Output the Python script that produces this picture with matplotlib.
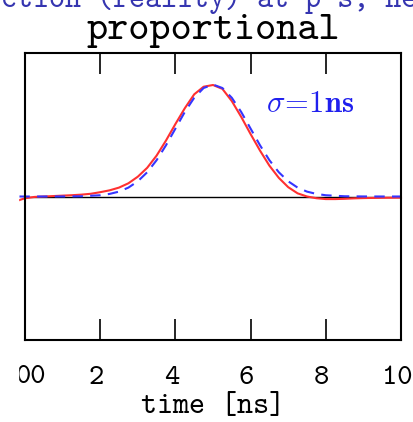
import numpy as np
import matplotlib
matplotlib.use('Agg')
import matplotlib.pyplot as plt
from matplotlib.patches import Rectangle
from matplotlib.transforms import ScaledTranslation

plt.rcParams['font.family'] = ['cmtt10', 'DejaVu Serif']
plt.rcParams['mathtext.fontset'] = 'cm'
plt.rcParams['axes.formatter.use_mathtext'] = True

# data
t_red = [-0.15, 0.0, 0.25, 0.5, 0.75, 1.0, 1.25, 1.5, 1.75, 2.0, 2.25, 2.5, 2.75,
         3.0, 3.25, 3.5, 3.75, 4.0, 4.25, 4.5, 4.75, 5.0, 5.25, 5.5, 5.75, 6.0,
         6.25, 6.5, 6.75, 7.0, 7.25, 7.5, 7.75, 8.0, 8.25, 8.5, 8.75, 9.0, 9.5, 10.0]
v_red = [-0.025, -0.012, -0.003, 0.0, 0.003, 0.006, 0.009, 0.013, 0.019, 0.030, 0.043,
         0.062, 0.092, 0.138, 0.200, 0.285, 0.390, 0.505, 0.615, 0.712, 0.765, 0.777,
         0.750, 0.665, 0.555, 0.435, 0.320, 0.215, 0.130, 0.065, 0.022, 0.0, -0.012,
         -0.018, -0.018, -0.016, -0.013, -0.011, -0.009, -0.008]

t_blue = [-0.15, 0.0, 0.5, 1.0, 1.5, 2.0, 2.25, 2.5, 2.75, 3.0, 3.25, 3.5, 3.75, 4.0,
          4.25, 4.5, 4.75, 5.0, 5.25, 5.5, 5.75, 6.0, 6.25, 6.5, 6.75, 7.0, 7.25,
          7.5, 7.75, 8.0, 8.5, 9.0, 9.5, 10.0]
v_blue = [0.0, 0.0, 0.0, 0.0003, 0.0017, 0.0087, 0.018, 0.034, 0.062, 0.106, 0.169,
          0.253, 0.357, 0.473, 0.589, 0.688, 0.756, 0.780, 0.756, 0.688, 0.589, 0.473,
          0.357, 0.253, 0.169, 0.106, 0.062, 0.034, 0.018, 0.0087, 0.0017, 0.0003,
          0.0, 0.0]

xticks = [0, 2, 4, 6, 8, 10]
xlabels = ['', '2', '4', '6', '8', '10']

fig = plt.figure(figsize=(4.14, 4.22), dpi=100)
ax = fig.add_axes([25/414, 82/422, 376/414, 287/422])

ax.axhline(0, color='black', lw=1.0)
ax.plot(t_red, v_red, color='#ff3030', lw=1.5, clip_on=False)
ax.plot(t_blue, v_blue, color='#3535ff', lw=1.5, ls=(0, (5, 3.5)), clip_on=False)

ax.set_xlim(0, 10)
ax.set_ylim(-1, 1)
ax.set_xticks(xticks)
ax.set_xticklabels(xlabels)
ax.set_yticks([])
ax.tick_params(axis='x', direction='in', top=True, length=15, width=1.2,
               labelsize=21, pad=19)
# labels sit a few pixels left of their ticks in the original
shift = ScaledTranslation(-4/100, 0, fig.dpi_scale_trans)
for lab in ax.get_xticklabels():
    lab.set_transform(lab.get_transform() + shift)
for s in ax.spines.values():
    s.set_linewidth(1.5)
ax.set_xlabel('time [ns]', fontsize=22, labelpad=2)
ax.set_title('proportional', fontsize=29, pad=10)

ax.text(0.64, 0.795, r'$\sigma\!=\!\mathbf{1ns}$', color='#2020ee', fontsize=22,
        transform=ax.transAxes)

# cut-off title of the panel above
fig.text(1/414, 1.0 - 7/422, 'ction (reality) at p-s, ne', color='#3535b0',
         fontsize=22, ha='left', va='baseline')

# white strip where the neighbouring panel covers this one
fig.patches.append(Rectangle((0, 0), 18/414, 1 - 40/422, transform=fig.transFigure,
                             color='white', zorder=10))
fig.text(46/414, 1 - 383/422, '00', fontsize=21, ha='right', va='baseline')

fig.savefig('out.png', dpi=100)
